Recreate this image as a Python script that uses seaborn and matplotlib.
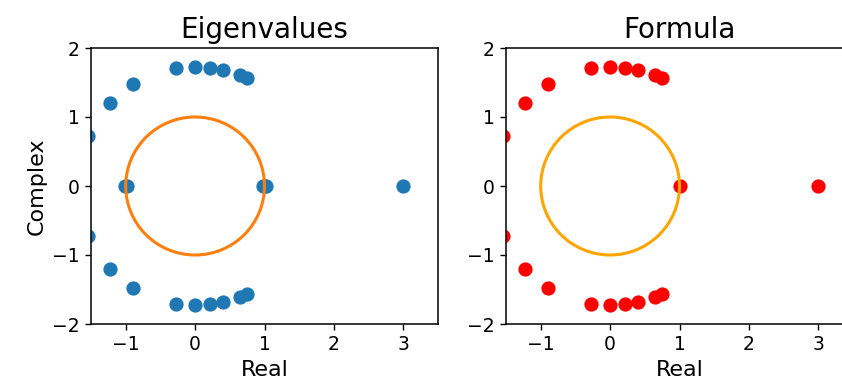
import numpy as np
import pandas as pd
import matplotlib
matplotlib.use("Agg")
import matplotlib.pyplot as plt
import seaborn as sns

# Complex roots in the upper half plane (conjugates mirror them below)
upper_real = [-1.55, -1.23, -0.89, -0.28, 0.00, 0.22, 0.40, 0.64, 0.75]
upper_imag = [0.73, 1.21, 1.48, 1.71, 1.73, 1.71, 1.68, 1.61, 1.57]

# Real roots: numerically computed eigenvalues vs. the closed-form ones
eig_real_axis = [-1.012, -0.988, 0.985, 1.0, 1.015, 3.0]
formula_real_axis = [1.0, 3.0]


def roots_frame(real_axis):
    re = upper_real + upper_real + real_axis
    im = upper_imag + [-v for v in upper_imag] + [0.0] * len(real_axis)
    return pd.DataFrame({"Real": re, "Complex": im})


eig_df = roots_frame(eig_real_axis)
formula_df = roots_frame(formula_real_axis)

W, H, DPI = 842, 392, 100
fig = plt.figure(figsize=(W / DPI, H / DPI), dpi=DPI)

ax_l = fig.add_axes([91 / W, (H - 324) / H, 347 / W, 276 / H])
ax_r = fig.add_axes([506 / W, (H - 324) / H, 347 / W, 276 / H])

panels = [
    (ax_l, eig_df, "#1f77b4", "#ff7f0e", "Eigenvalues"),
    (ax_r, formula_df, "red", "orange", "Formula"),
]

for ax, df, pcolor, ccolor, title in panels:
    sns.scatterplot(data=df, x="Real", y="Complex", ax=ax, color=pcolor,
                    s=105, linewidth=0, zorder=2, clip_on=True)
    ax.add_patch(plt.Circle((0, 0), 1.0, fill=False, color=ccolor,
                            lw=2.2, zorder=3))
    ax.set_xlim(-1.5, 3.5)
    ax.set_ylim(-2, 2)
    ax.set_xticks([-1, 0, 1, 2, 3])
    ax.set_yticks([-2, -1, 0, 1, 2])
    ax.tick_params(labelsize=13.5, width=1.0, length=4.5)
    for sp in ax.spines.values():
        sp.set_linewidth(1.1)
    ax.set_title(title, fontsize=20, pad=7)
    ax.set_xlabel("Real", fontsize=16)
    ax.set_ylabel("")

ax_l.set_ylabel("Complex", fontsize=16)

fig.savefig("out.png", dpi=DPI)
